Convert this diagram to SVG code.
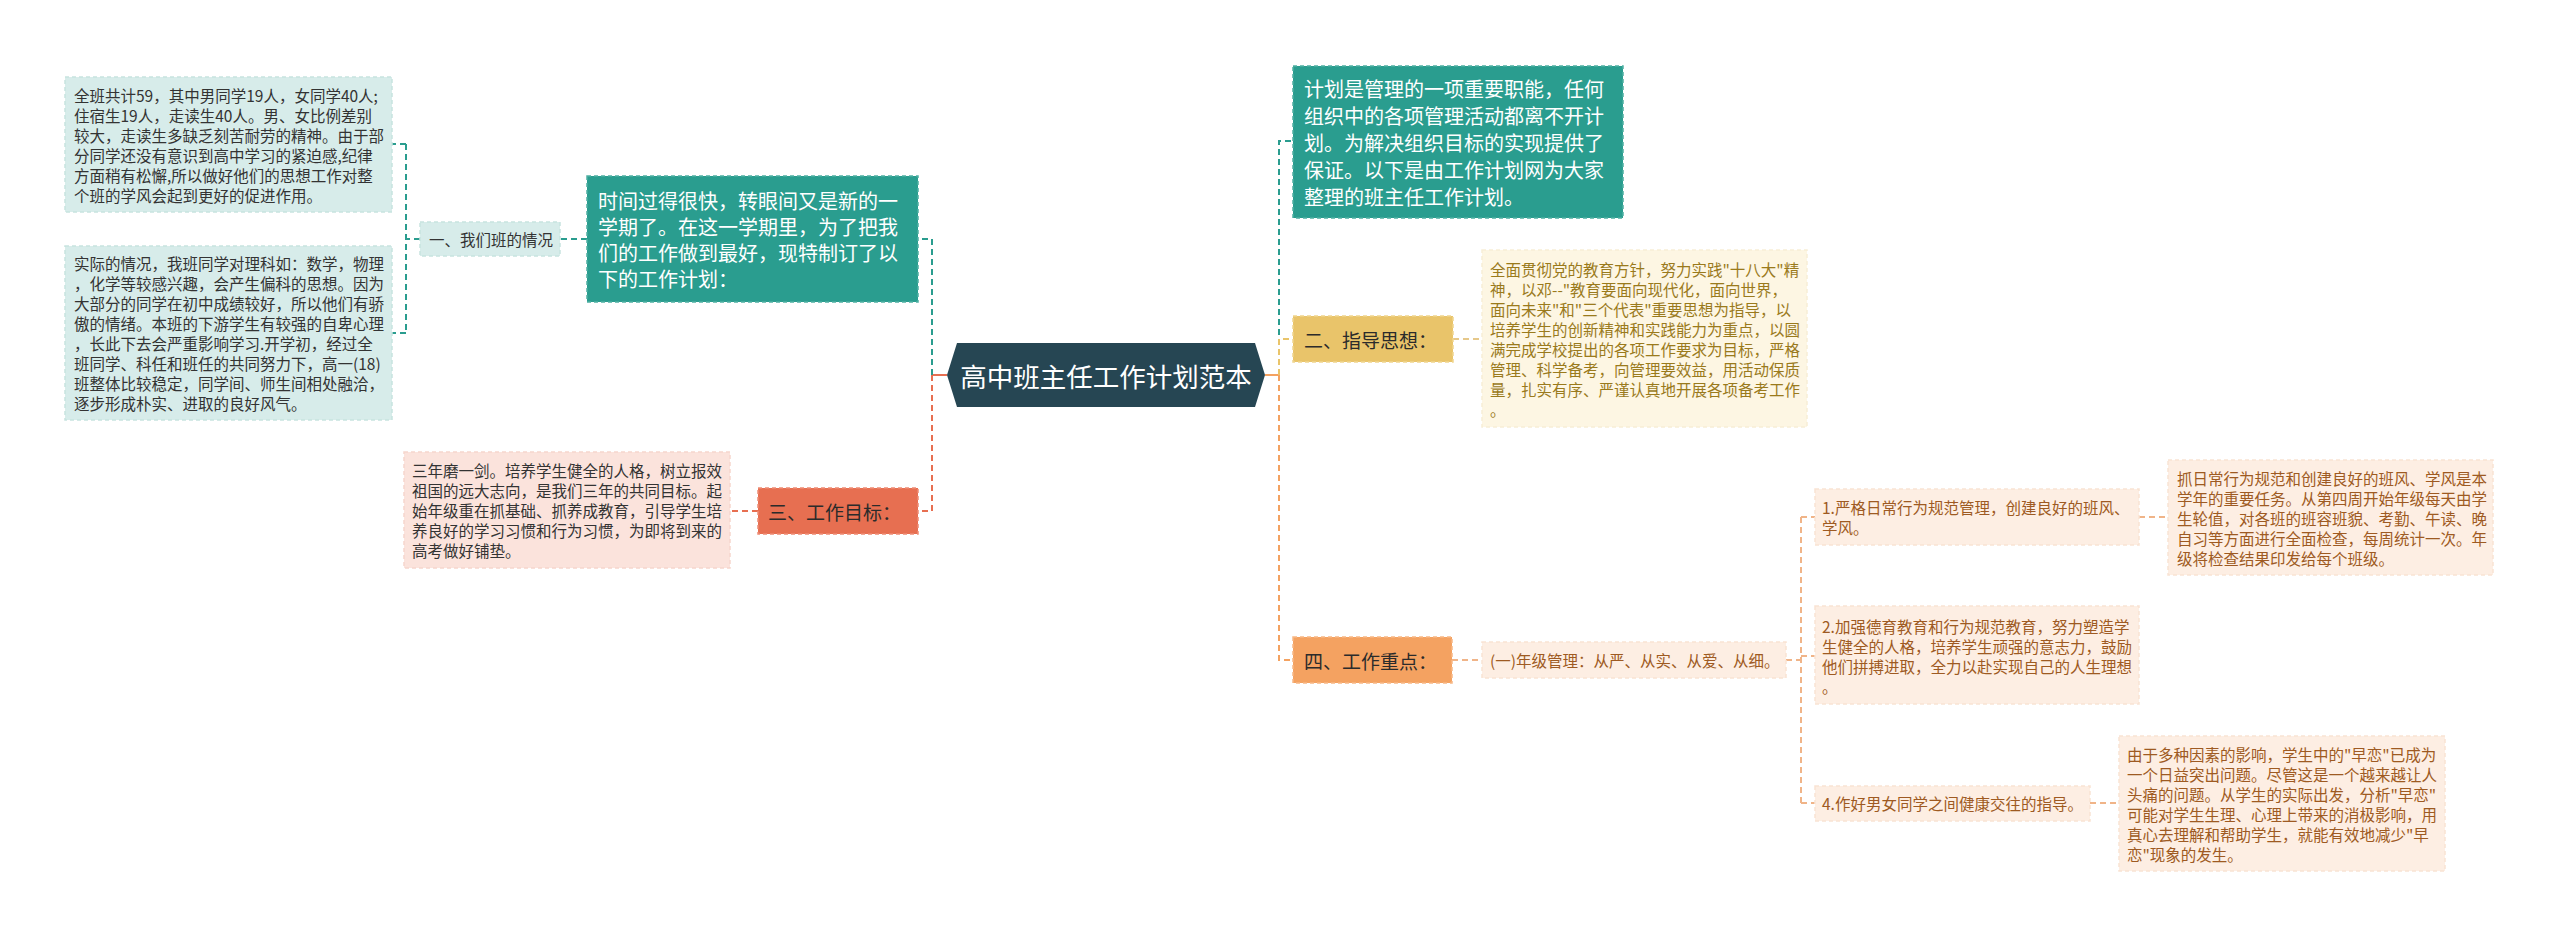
<svg xmlns="http://www.w3.org/2000/svg" width="2560" height="937" viewBox="0 0 2560 937">
<style>
text{font-family:"Noto Sans CJK SC","Noto Sans",sans-serif;dominant-baseline:central}
.b{font-size:15.5px}
.lbl{font-size:19px;fill:#2b2b2b}
.big{font-size:20px;fill:#ffffff}
.dk{fill:#333333}
.gold{fill:#9a7a1c}
.brn{fill:#9e5a22}
.lt{fill:#d7ecea;stroke:#c8e3df;stroke-width:1.5;stroke-dasharray:4 3}
.tl{fill:#2a9d8f;stroke:#4fb0a3;stroke-width:1.5;stroke-dasharray:4 3}
.pk{fill:#fbe3dc;stroke:#f6d6cd;stroke-width:1.5;stroke-dasharray:4 3}
.cr{fill:#fdf6e3;stroke:#f8eed6;stroke-width:1.5;stroke-dasharray:4 3}
.pc{fill:#fdeee3;stroke:#f9e3d3;stroke-width:1.5;stroke-dasharray:4 3}
.ye{fill:#e9c46a;stroke:#f0d58f;stroke-width:1.5;stroke-dasharray:4 3}
.or{fill:#f4a261;stroke:#f7b885;stroke-width:1.5;stroke-dasharray:4 3}
.co{fill:#e76f51;stroke:#ee8c74;stroke-width:1.5;stroke-dasharray:4 3}
.c{fill:none;stroke-width:2;stroke-dasharray:6 4}
.s{fill:none;stroke-width:2}
</style>
<rect width="2560" height="937" fill="#ffffff"/>
<g id="connectors">
<path class="s" d="M947 375 H932" stroke="#e76f51"/>
<path class="c" d="M932 375 V239 H918" stroke="#2a9d8f"/>
<path class="c" d="M932 375 V511 H918" stroke="#e76f51"/>
<path class="c" d="M587 239 H560" stroke="#2a9d8f"/>
<path class="c" d="M420 239 H406 M406 144 V333 M406 144 H392 M406 333 H392" stroke="#2a9d8f"/>
<path class="c" d="M758 511 H730" stroke="#e76f51"/>
<path class="s" d="M1265 375 H1279" stroke="#f4a261"/>
<path class="c" d="M1279 375 V141 H1293" stroke="#2a9d8f"/>
<path class="c" d="M1279 375 V660 H1293" stroke="#f4a261"/>
<path class="c" d="M1279 375 V339 H1293" stroke="#e9c46a"/>
<path class="c" d="M1453 339 H1482" stroke="#e6c88a"/>
<path class="c" d="M1452 660 H1482" stroke="#f0b488"/>
<path class="c" d="M1786 660 H1801 M1801 517 V803 M1801 517 H1815 M1801 656 H1815 M1801 803 H1815" stroke="#f0b488"/>
<path class="c" d="M2139 517 H2168" stroke="#f0b488"/>
<path class="c" d="M2090 803 H2119" stroke="#f0b488"/>
</g>
<g id="center">
<polygon points="947,375 957,343 1255,343 1265,375 1255,407 957,407" fill="#264653"/>
<text x="1106" y="375" text-anchor="middle" font-size="26.5" fill="#ffffff">高中班主任工作计划范本</text>
</g>
<g id="intro-left">
<rect class="tl" x="587" y="176" width="331" height="126"/>
<text class="big" x="598"><tspan x="598" y="200">时间过得很快，转眼间又是新的一</tspan><tspan x="598" y="226">学期了。在这一学期里，为了把我</tspan><tspan x="598" y="252">们的工作做到最好，现特制订了以</tspan><tspan x="598" y="278">下的工作计划：</tspan></text>
</g>
<g id="node-situation">
<rect class="lt" x="420" y="222" width="140" height="34"/>
<text class="b dk" x="429" y="239">一、我们班的情况</text>
</g>
<g id="node-situation-a">
<rect class="lt" x="65" y="77" width="327" height="135"/>
<text class="b dk"><tspan x="74" y="95">全班共计59，其中男同学19人，女同学40人;</tspan><tspan x="74" y="115">住宿生19人，走读生40人。男、女比例差别</tspan><tspan x="74" y="135">较大，走读生多缺乏刻苦耐劳的精神。由于部</tspan><tspan x="74" y="155">分同学还没有意识到高中学习的紧迫感,纪律</tspan><tspan x="74" y="175">方面稍有松懈,所以做好他们的思想工作对整</tspan><tspan x="74" y="195">个班的学风会起到更好的促进作用。</tspan></text>
</g>
<g id="node-situation-b">
<rect class="lt" x="65" y="246" width="327" height="174"/>
<text class="b dk"><tspan x="74" y="263">实际的情况，我班同学对理科如：数学，物理</tspan><tspan x="74" y="283">，化学等较感兴趣，会产生偏科的思想。因为</tspan><tspan x="74" y="303">大部分的同学在初中成绩较好，所以他们有骄</tspan><tspan x="74" y="323">傲的情绪。本班的下游学生有较强的自卑心理</tspan><tspan x="74" y="343">，长此下去会严重影响学习.开学初，经过全</tspan><tspan x="74" y="363">班同学、科任和班任的共同努力下，高一(18)</tspan><tspan x="74" y="383">班整体比较稳定，同学间、师生间相处融洽，</tspan><tspan x="74" y="403">逐步形成朴实、进取的良好风气。</tspan></text>
</g>
<g id="node-goal">
<rect class="co" x="758" y="488" width="160" height="46"/>
<text class="lbl" x="768" y="511">三、工作目标：</text>
</g>
<g id="node-goal-detail">
<rect class="pk" x="404" y="452" width="326" height="116"/>
<text class="b dk"><tspan x="412" y="470">三年磨一剑。培养学生健全的人格，树立报效</tspan><tspan x="412" y="490">祖国的远大志向，是我们三年的共同目标。起</tspan><tspan x="412" y="510">始年级重在抓基础、抓养成教育，引导学生培</tspan><tspan x="412" y="530">养良好的学习习惯和行为习惯，为即将到来的</tspan><tspan x="412" y="550">高考做好铺垫。</tspan></text>
</g>
<g id="intro-right">
<rect class="tl" x="1293" y="66" width="330" height="152"/>
<text class="big"><tspan x="1304" y="88">计划是管理的一项重要职能，任何</tspan><tspan x="1304" y="115">组织中的各项管理活动都离不开计</tspan><tspan x="1304" y="142">划。为解决组织目标的实现提供了</tspan><tspan x="1304" y="169">保证。以下是由工作计划网为大家</tspan><tspan x="1304" y="196">整理的班主任工作计划。</tspan></text>
</g>
<g id="node-guide">
<rect class="ye" x="1293" y="316" width="160" height="46"/>
<text class="lbl" x="1304" y="339">二、指导思想：</text>
</g>
<g id="node-guide-detail">
<rect class="cr" x="1482" y="250" width="325" height="177"/>
<text class="b gold"><tspan x="1490" y="269">全面贯彻党的教育方针，努力实践"十八大"精</tspan><tspan x="1490" y="289">神，以邓--"教育要面向现代化，面向世界，</tspan><tspan x="1490" y="309">面向未来"和"三个代表"重要思想为指导，以</tspan><tspan x="1490" y="329">培养学生的创新精神和实践能力为重点，以圆</tspan><tspan x="1490" y="349">满完成学校提出的各项工作要求为目标，严格</tspan><tspan x="1490" y="369">管理、科学备考，向管理要效益，用活动保质</tspan><tspan x="1490" y="389">量，扎实有序、严谨认真地开展各项备考工作</tspan><tspan x="1490" y="409">。</tspan></text>
</g>
<g id="node-focus">
<rect class="or" x="1293" y="637" width="159" height="46"/>
<text class="lbl" x="1304" y="660">四、工作重点：</text>
</g>
<g id="node-grade">
<rect class="pc" x="1482" y="642" width="304" height="36"/>
<text class="b brn" x="1490" y="660">(一)年级管理：从严、从实、从爱、从细。</text>
</g>
<g id="node-item1">
<rect class="pc" x="1815" y="489" width="324" height="56"/>
<text class="b brn"><tspan x="1822" y="507">1.严格日常行为规范管理，创建良好的班风、</tspan><tspan x="1822" y="527">学风。</tspan></text>
</g>
<g id="node-item1-detail">
<rect class="pc" x="2168" y="460" width="325" height="115"/>
<text class="b brn"><tspan x="2177" y="478">抓日常行为规范和创建良好的班风、学风是本</tspan><tspan x="2177" y="498">学年的重要任务。从第四周开始年级每天由学</tspan><tspan x="2177" y="518">生轮值，对各班的班容班貌、考勤、午读、晚</tspan><tspan x="2177" y="538">自习等方面进行全面检查，每周统计一次。年</tspan><tspan x="2177" y="558">级将检查结果印发给每个班级。</tspan></text>
</g>
<g id="node-item2">
<rect class="pc" x="1815" y="606" width="324" height="98"/>
<text class="b brn"><tspan x="1822" y="626">2.加强德育教育和行为规范教育，努力塑造学</tspan><tspan x="1822" y="646">生健全的人格，培养学生顽强的意志力，鼓励</tspan><tspan x="1822" y="666">他们拼搏进取，全力以赴实现自己的人生理想</tspan><tspan x="1822" y="686">。</tspan></text>
</g>
<g id="node-item4">
<rect class="pc" x="1815" y="786" width="275" height="35"/>
<text class="b brn" x="1822" y="803">4.作好男女同学之间健康交往的指导。</text>
</g>
<g id="node-item4-detail">
<rect class="pc" x="2119" y="736" width="326" height="135"/>
<text class="b brn"><tspan x="2127" y="754">由于多种因素的影响，学生中的"早恋"已成为</tspan><tspan x="2127" y="774">一个日益突出问题。尽管这是一个越来越让人</tspan><tspan x="2127" y="794">头痛的问题。从学生的实际出发，分析"早恋"</tspan><tspan x="2127" y="814">可能对学生生理、心理上带来的消极影响，用</tspan><tspan x="2127" y="834">真心去理解和帮助学生，就能有效地减少"早</tspan><tspan x="2127" y="854">恋"现象的发生。</tspan></text>
</g>
</svg>
